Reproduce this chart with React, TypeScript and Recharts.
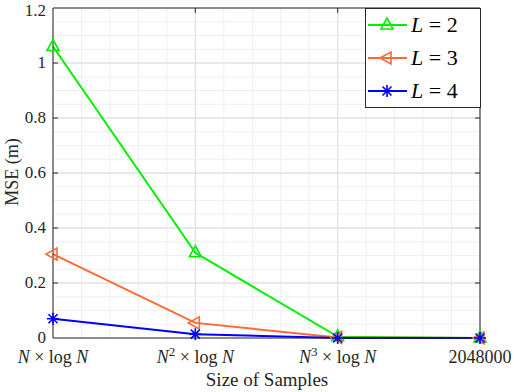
import {
  LineChart, Line, XAxis, YAxis, CartesianGrid, ReferenceLine,
} from 'recharts';

const categories = ['N × log N', 'N2 × log N', 'N3 × log N', '2048000'];
const seriesL2 = [1.06, 0.31, 0.005, 0.0];
const seriesL3 = [0.305, 0.055, 0.002, 0.0];
const seriesL4 = [0.07, 0.014, 0.0, 0.0];
const yTicks = [0, 0.2, 0.4, 0.6, 0.8, 1, 1.2];
const xTicks = [0, 1, 2, 3];

const FONT = '"Liberation Serif", "DejaVu Serif", serif';
const AXIS = '#262626';
const GREEN = '#00ee00';
const ORANGE = '#ff6a33';
const BLUE = '#0000ff';

const data = categories.map((c, i) => ({
  x: i,
  L2: seriesL2[i],
  L3: seriesL3[i],
  L4: seriesL4[i],
}));

// minor grid positions (MATLAB style)
const yMinor: number[] = [];
for (let i = 1; i < 24; i++) if (i % 4 !== 0) yMinor.push(i * 0.05);
const xMinor: number[] = [];
for (let i = 1; i < 15; i++) if (i % 5 !== 0) xMinor.push(i * 0.2);

function TriUp(props: any) {
  const { cx, cy, stroke } = props;
  if (cx == null || cy == null) return null;
  return <path d={`M${cx},${cy - 7} L${cx + 6},${cy + 4} L${cx - 6},${cy + 4} Z`} fill="none" stroke={stroke} strokeWidth={1.6} />;
}

function TriLeft(props: any) {
  const { cx, cy, stroke } = props;
  if (cx == null || cy == null) return null;
  return <path d={`M${cx - 7},${cy} L${cx + 4},${cy - 6} L${cx + 4},${cy + 6} Z`} fill="none" stroke={stroke} strokeWidth={1.6} />;
}

function Star(props: any) {
  const { cx, cy, stroke } = props;
  if (cx == null || cy == null) return null;
  const r = 6;
  const d = r * 0.75;
  return (
    <path
      d={`M${cx},${cy - r} L${cx},${cy + r} M${cx - r},${cy} L${cx + r},${cy} M${cx - d},${cy - d} L${cx + d},${cy + d} M${cx - d},${cy + d} L${cx + d},${cy - d}`}
      stroke={stroke}
      strokeWidth={1.6}
    />
  );
}

const renderXTick = (props: any) => {
  const { x, payload } = props;
  const i = payload.value;
  const y = 363;
  if (i === 3) {
    return <text x={x} y={y} textAnchor="middle" fontFamily={FONT} fontSize={18} fill={AXIS}>{categories[3]}</text>;
  }
  return (
    <text x={x} y={y} textAnchor="middle" fontFamily={FONT} fontSize={18} fill={AXIS}>
      <tspan fontStyle="italic">N</tspan>
      {i > 0 && <tspan dy={-7} fontSize={13}>{i + 1}</tspan>}
      <tspan dy={i > 0 ? 7 : 0}> × log </tspan>
      <tspan fontStyle="italic">N</tspan>
    </text>
  );
};

const renderYTick = (props: any) => {
  const { y, payload } = props;
  // keep the top label inside the picture
  const base = Math.max(y + 5, 16);
  return (
    <text x={46} y={base} textAnchor="end" fontFamily={FONT} fontSize={17} fill={AXIS}>
      {String(payload.value)}
    </text>
  );
};

const legendItems = [
  { label: '2', color: GREEN, Mark: TriUp },
  { label: '3', color: ORANGE, Mark: TriLeft },
  { label: '4', color: BLUE, Mark: Star },
];

function LegendBox() {
  return (
    <svg width={116} height={100} style={{ display: 'block' }}>
      <rect x={0.5} y={0.5} width={115} height={99} fill="#fff" stroke={AXIS} strokeWidth={1} />
      {legendItems.map((it, k) => {
        const cy = 17 + k * 33;
        return (
          <g key={it.label}>
            <line x1={3} x2={42} y1={cy} y2={cy} stroke={it.color} strokeWidth={2} />
            <it.Mark cx={22} cy={cy} stroke={it.color} />
            <text x={46} y={cy + 7} fontFamily={FONT} fontSize={22} fill="#000">
              <tspan fontStyle="italic">L</tspan>
              <tspan> = {it.label}</tspan>
            </text>
          </g>
        );
      })}
    </svg>
  );
}

const TX = 0.035;
const TY = 0.018;

export default function App() {
  return (
    <div style={{ position: 'absolute', left: 0, top: 0, width: 514, height: 392, background: '#fff', fontFamily: FONT }}>
      <LineChart width={514} height={392} data={data} margin={{ top: 8, right: 34, bottom: 0, left: 0 }} style={{ fontFamily: FONT }}>
        <CartesianGrid stroke="#e3e3e3" horizontalValues={yTicks} verticalValues={xTicks} />
        {yMinor.map(v => (
          <ReferenceLine key={'ym' + v} y={v} stroke="#efefef" strokeWidth={1} />
        ))}
        {xMinor.map(v => (
          <ReferenceLine key={'xm' + v} x={v} stroke="#efefef" strokeWidth={1} />
        ))}
        {yTicks.slice(1, -1).map(v => (
          <ReferenceLine key={'yg' + v} y={v} stroke="#e0e0e0" strokeWidth={1} />
        ))}
        {xTicks.slice(1, -1).map(v => (
          <ReferenceLine key={'xg' + v} x={v} stroke="#e0e0e0" strokeWidth={1} />
        ))}
        <XAxis
          type="number"
          dataKey="x"
          domain={[0, 3]}
          ticks={xTicks}
          tick={renderXTick}
          tickLine={false}
          tickSize={0}
          height={54}
          stroke={AXIS}
          label={{ content: () => <text x={267} y={386} textAnchor="middle" fontFamily={FONT} fontSize={19} fill={AXIS}>Size of Samples</text> }}
        />
        <YAxis
          type="number"
          domain={[0, 1.2]}
          ticks={yTicks}
          tick={renderYTick}
          tickLine={false}
          tickSize={0}
          width={53}
          stroke={AXIS}
          label={{ content: () => <text x={18} y={172} transform="rotate(-90 18 172)" textAnchor="middle" fontFamily={FONT} fontSize={18} fill={AXIS}>MSE (m)</text> }}
        />
        <ReferenceLine y={1.2} stroke={AXIS} />
        <ReferenceLine x={3} stroke={AXIS} />
        {yTicks.slice(1, -1).map(v => (
          <ReferenceLine key={'lt' + v} segment={[{ x: 0, y: v }, { x: TX, y: v }]} stroke={AXIS} />
        ))}
        {yTicks.slice(1, -1).map(v => (
          <ReferenceLine key={'rt' + v} segment={[{ x: 3 - TX, y: v }, { x: 3, y: v }]} stroke={AXIS} />
        ))}
        {xTicks.slice(1, -1).map(v => (
          <ReferenceLine key={'bt' + v} segment={[{ x: v, y: 0 }, { x: v, y: TY }]} stroke={AXIS} />
        ))}
        {xTicks.slice(1, -1).map(v => (
          <ReferenceLine key={'tt' + v} segment={[{ x: v, y: 1.2 - TY }, { x: v, y: 1.2 }]} stroke={AXIS} />
        ))}
        <Line dataKey="L2" stroke={GREEN} strokeWidth={2} dot={<TriUp />} activeDot={false} isAnimationActive={false} />
        <Line dataKey="L3" stroke={ORANGE} strokeWidth={2} dot={<TriLeft />} activeDot={false} isAnimationActive={false} />
        <Line dataKey="L4" stroke={BLUE} strokeWidth={2} dot={<Star />} activeDot={false} isAnimationActive={false} />
      </LineChart>
      <div style={{ position: 'absolute', left: 365, top: 8 }}>
        <LegendBox />
      </div>
    </div>
  );
}
